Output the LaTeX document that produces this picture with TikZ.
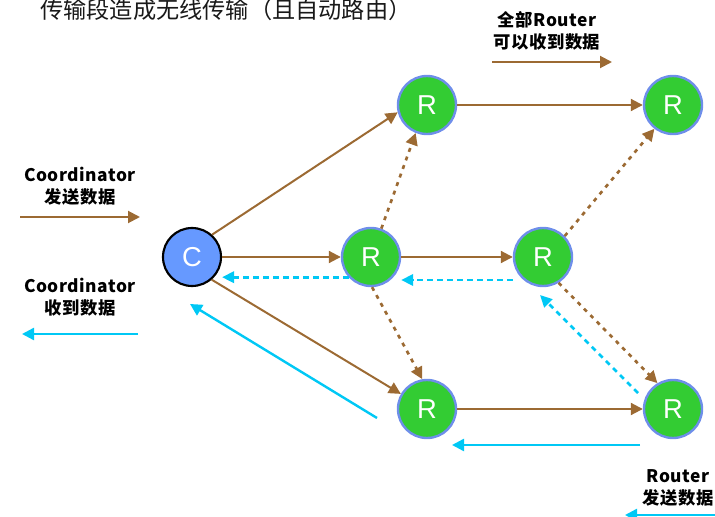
\documentclass[tikz,border=0pt]{standalone}
\usepackage{fontspec}
\newfontfamily\cjk{Noto Sans CJK SC}
\newfontfamily\cjkl{Noto Sans CJK SC}[LetterSpace=3]
\newfontfamily\arialf{Liberation Sans}
\usetikzlibrary{arrows.meta,calc}
\definecolor{brn}{HTML}{9C6A33}
\definecolor{cyn}{HTML}{00C8F5}
\definecolor{grn}{HTML}{33CC33}
\definecolor{rbord}{HTML}{6E8EEA}
\definecolor{cblue}{HTML}{6699FF}
\begin{document}
\begin{tikzpicture}[x=0.75pt,y=-0.75pt,
  rnode/.style={circle,fill=grn,draw=rbord,line width=1.8pt,minimum size=43.5pt,inner sep=0pt,
    text=white,font=\arialf\fontsize{20.5}{20}\selectfont},
  cnode/.style={circle,fill=cblue,draw=black,line width=1.6pt,minimum size=43.5pt,inner sep=0pt,
    text=white,font=\arialf\fontsize{20.5}{20}\selectfont},
  bsolid/.style={draw=brn,line width=1.5pt,-{Triangle[length=9pt,width=9pt]}},
  bdot/.style={draw=brn,line width=2pt,dash pattern=on 3pt off 3.8pt,-{Triangle[length=9pt,width=9pt]}},
  csolid/.style={draw=cyn,line width=1.8pt,-{Triangle[length=9pt,width=9pt]}},
  cdash/.style={draw=cyn,line width=2pt,dash pattern=on 4pt off 3.5pt,-{Triangle[length=9pt,width=8.5pt]}},
  lbl/.style={align=center,inner sep=0pt,font=\cjkl\bfseries\fontsize{13}{16.5}\selectfont}]
\useasboundingbox (0,0) rectangle (715,517);

% title
\node[anchor=base west,inner sep=0pt,text=black!90,font=\cjk\fontsize{17.4}{20}\selectfont] (title) at (40,18.5) {传输段造成无线传输（且自动路由）};

% nodes
\node[cnode] (C) at (192,257) {C};
\node[rnode] (R1) at (371,257) {R};
\node[rnode] (Rtl) at (427,105) {R};
\node[rnode] (Rtr) at (673,105) {R};
\node[rnode] (R3) at (543,257) {R};
\node[rnode] (Rbl) at (427,409) {R};
\node[rnode] (Rbr) at (673,409) {R};

% brown solid
\draw[bsolid] (C.48) -- (Rtl.194);
\draw[bsolid] (C.east) -- (R1.west);
\draw[bsolid] (C.-49) -- (Rbl.150);
\draw[bsolid] (Rtl.east) -- (Rtr.west);
\draw[bsolid] (R1.east) -- (R3.west);
\draw[bsolid] (Rbl.east) -- (Rbr.west);

% brown dotted
\draw[bdot] (R1.70) -- (Rtl.248);
\draw[bdot] (R1.-88) -- (Rbl.99);
\draw[bdot] (R3.44) -- (Rtr.232);
\draw[bdot] (R3.-59) -- (Rbr.121);

% cyan dashed
\draw[cdash] (R1.222) -- (R1.222 -| C.east);
\draw[cdash] ($(R3.west)+(0,23)$) -- ($(R1.east)+(0,23)$);
\draw[cdash] ($(Rbr)+(-35,-16)$) -- ($(R3)+(-3,38)$);

% cyan solid
\draw[csolid] ($(Rbl)+(-50,9)$) -- ($(C)+(-2,47)$);
\draw[csolid] ($(Rbr)+(-33,36)$) -- ($(Rbl)+(25,36)$);

% legends
\node[lbl] (L1) at (80,186) {Coordinator\\发送数据};
\coordinate (l1a) at (20,217);
\coordinate (l1b) at (140,217);
\draw[bsolid] (l1a) -- (l1b);

\node[lbl] (L2) at (80,297) {Coordinator\\收到数据};
\coordinate (l2a) at (138,334);
\coordinate (l2b) at (22,334);
\draw[csolid] (l2a) -- (l2b);

\node[lbl] (L3) at (547,31) {全部Router\\可以收到数据};
\coordinate (l3a) at (492,62);
\coordinate (l3b) at (612,62);
\draw[bsolid] (l3a) -- (l3b);

\node[lbl] (L4) at (678,488) {Router\\发送数据};
\coordinate (l4a) at (716,515);
\coordinate (l4b) at (625,515);
\draw[csolid] (l4a) -- (l4b);
\end{tikzpicture}
\end{document}
